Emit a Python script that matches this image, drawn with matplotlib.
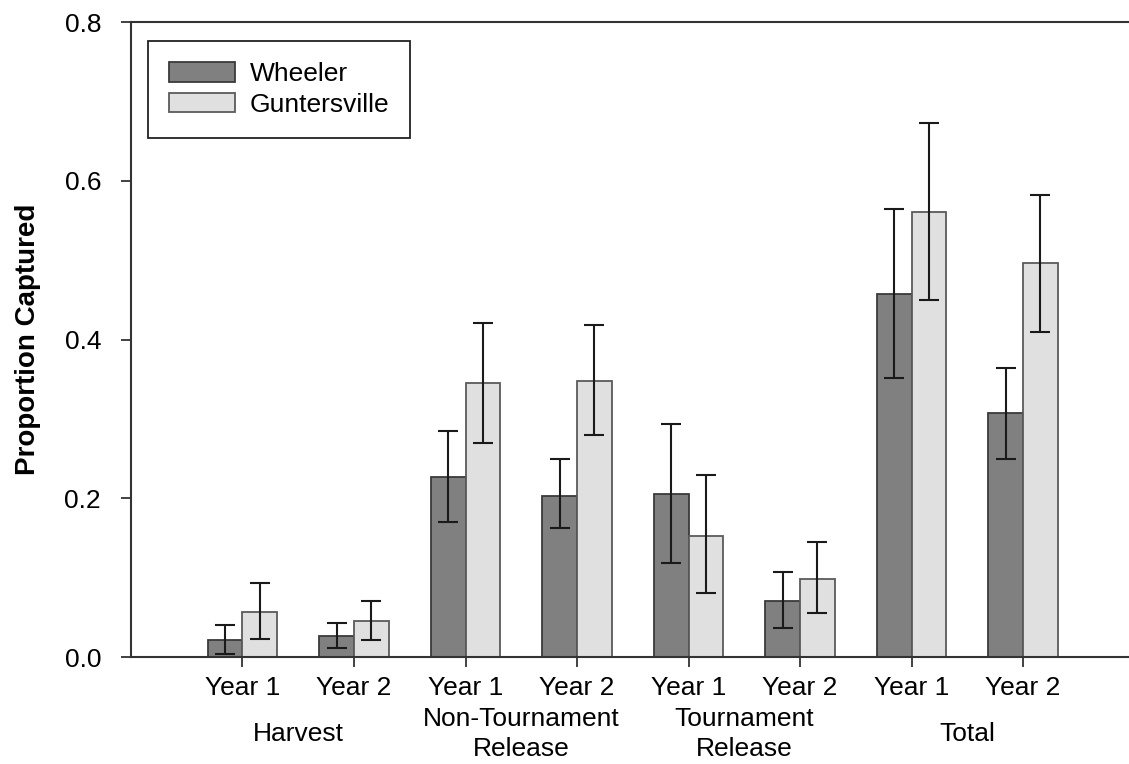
import numpy as np
import matplotlib
matplotlib.use("Agg")
import matplotlib.pyplot as plt
from matplotlib.transforms import blended_transform_factory

plt.rcParams["font.family"] = ["Liberation Sans", "DejaVu Sans"]

# data
year_labels = ["Year 1", "Year 2"] * 4
categories = ["Harvest", "Non-Tournament\nRelease", "Tournament\nRelease", "Total"]
wheeler = [0.021, 0.026, 0.227, 0.203, 0.205, 0.071, 0.458, 0.307]
wheeler_lo = [0.004, 0.011, 0.170, 0.162, 0.119, 0.037, 0.352, 0.249]
wheeler_hi = [0.040, 0.043, 0.285, 0.249, 0.294, 0.107, 0.565, 0.364]
gunter = [0.057, 0.045, 0.345, 0.348, 0.153, 0.098, 0.561, 0.496]
gunter_lo = [0.023, 0.021, 0.270, 0.280, 0.081, 0.055, 0.450, 0.409]
gunter_hi = [0.093, 0.071, 0.421, 0.419, 0.229, 0.145, 0.673, 0.582]

x = np.arange(1, len(wheeler) + 1)
w = 0.31

fig = plt.figure(figsize=(11.29, 7.64), dpi=100)
ax = fig.add_axes([0.116, 0.140, 0.884, 0.831])

wh = np.array(wheeler)
gu = np.array(gunter)
ax.bar(x - w / 2, wh, w, color="#808080", edgecolor="#3a3a3a", linewidth=1.3, label="Wheeler")
ax.bar(x + w / 2, gu, w, color="#e0e0e0", edgecolor="#5a5a5a", linewidth=1.3, label="Guntersville")
ax.errorbar(x - w / 2, wh, yerr=[wh - np.array(wheeler_lo), np.array(wheeler_hi) - wh],
            fmt="none", ecolor="#1a1a1a", elinewidth=1.5, capsize=7.5, capthick=1.5)
ax.errorbar(x + w / 2, gu, yerr=[gu - np.array(gunter_lo), np.array(gunter_hi) - gu],
            fmt="none", ecolor="#1a1a1a", elinewidth=1.5, capsize=7.5, capthick=1.5)

ax.set_xlim(0, 8.95)
ax.set_ylim(0, 0.8)
ax.set_yticks([0.0, 0.2, 0.4, 0.6, 0.8])
ax.set_yticklabels(["0.0", "0.2", "0.4", "0.6", "0.8"])
ax.set_xticks(x)
ax.set_xticklabels(year_labels)
ax.tick_params(axis="both", direction="out", length=7.5, width=1.3, color="#333333",
               labelsize=19)
ax.tick_params(axis="y", pad=14)
ax.tick_params(axis="x", pad=6.5)

for s in ["left", "bottom", "top"]:
    ax.spines[s].set_color("#333333")
    ax.spines[s].set_linewidth(1.5)
ax.spines["right"].set_visible(False)

ax.set_ylabel("Proportion Captured", fontsize=20, fontweight="bold", labelpad=17)

trans = blended_transform_factory(ax.transData, ax.transAxes)
for i, cat in enumerate(categories):
    cx = 2 * i + 1.5
    ax.text(cx, -0.121, cat, transform=trans, ha="center", va="center",
            fontsize=19, linespacing=1.3)

leg = ax.legend(loc="upper left", bbox_to_anchor=(0.017, 0.970), fontsize=19,
                handlelength=2.5, handleheight=0.75, fancybox=False, framealpha=1,
                borderpad=0.8, labelspacing=0.25, handletextpad=0.55, borderaxespad=0)
leg.get_frame().set_edgecolor("#222222")
leg.get_frame().set_linewidth(1.3)

fig.savefig("out.png", dpi=100)
